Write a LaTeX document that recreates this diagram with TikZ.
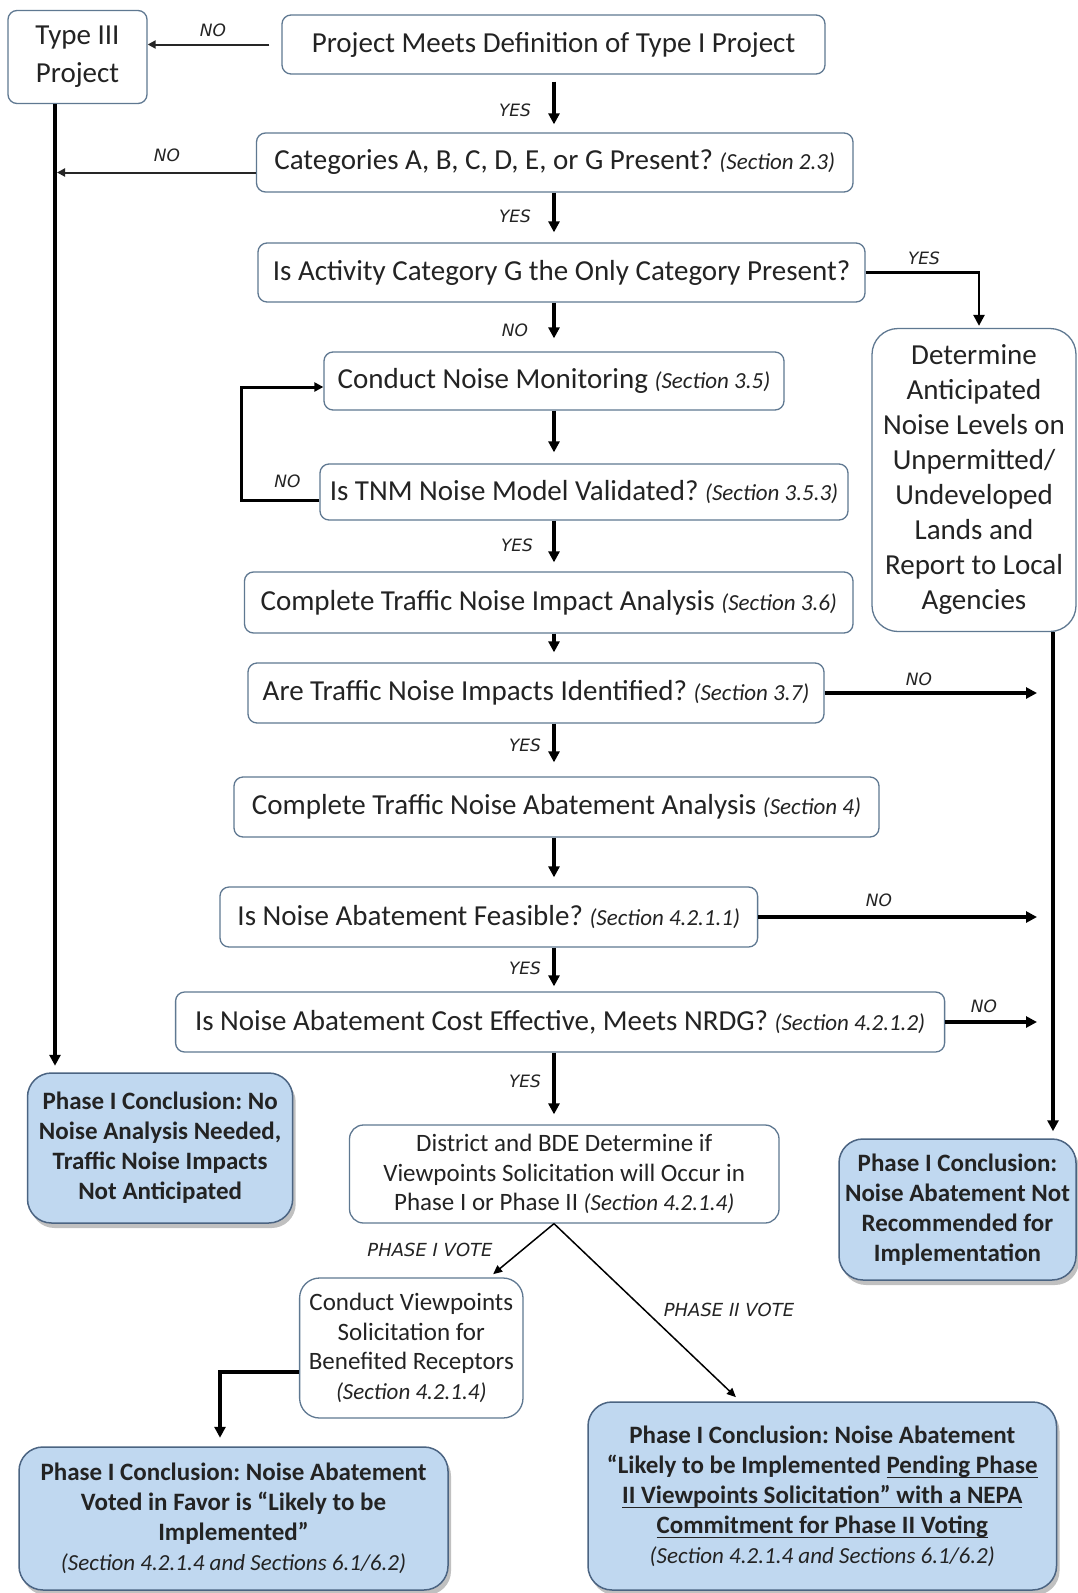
\documentclass[tikz,border=0pt]{standalone}
\usepackage{fontspec}
\setmainfont{Carlito}
\newfontfamily\lblfam{DejaVu Sans}
\usetikzlibrary{arrows.meta,shadows}
\definecolor{boxedge}{RGB}{95,120,145}
\definecolor{blueedge}{RGB}{75,100,130}
\definecolor{bluefill}{RGB}{192,216,240}
\definecolor{txt}{RGB}{35,35,35}
\newcommand\fMain{\fontsize{29}{35}\selectfont}
\newcommand\fTyp{\fontsize{29}{38}\selectfont}
\newcommand\fSec{\fontsize{23}{28}\selectfont\mdseries\itshape}
\newcommand\fSm{\fontsize{25}{29.5}\selectfont}
\newcommand\fBld{\fontsize{25}{30}\selectfont\bfseries}
\newcommand\fLbl{\fontsize{17}{20}\selectfont\lblfam\itshape}
\newcommand\ulx[1]{\underline{\smash{#1}\vphantom{\rule[-2.5pt]{0pt}{1pt}}}}
\frenchspacing
\begin{document}
\begin{tikzpicture}[x=1pt,y=-1pt,
  box/.style={draw=boxedge, line width=1.3pt, fill=white, rounded corners=9pt,
    inner sep=0pt, text=txt, font=\fMain, align=center},
  bluebox/.style={draw=blueedge, line width=1.5pt, fill=bluefill, rounded corners=24pt,
    inner sep=0pt, text=txt, align=center, font=\fBld,
    drop shadow={shadow xshift=3pt, shadow yshift=-5pt, opacity=0.35, fill=black!70}},
  arr/.style={line width=3.4pt, -{Triangle[length=11pt,width=11pt]}},
  thinarr/.style={line width=2pt, draw=black!85, -{Triangle[length=8pt,width=8pt]}},
  votearr/.style={line width=1.5pt, -{Triangle[length=9pt,width=8pt]}},
  lbl/.style={font=\fLbl, text=txt, inner sep=0pt}]
\fill[white] (0,0) rectangle (1078,1593);
\useasboundingbox (0,0) rectangle (1078,1593);

% helper coordinates
\coordinate (col) at (554,0);
\coordinate (vline) at (55,0);
\coordinate (cx1) at (979,0);
\coordinate (loopx) at (241,0);
\coordinate (rnoend) at (1037,0);
\coordinate (rx) at (1053,0);
\coordinate (lx) at (220,0);

% boxes
\node[box, font=\fTyp, minimum width=139pt, minimum height=93pt] (t3) at (77.5,57) {Type III\\Project};
\node[box, minimum width=543pt, minimum height=59pt] (b1) at (553.5,44.5) {Project Meets Definition of Type I Project};
\node[box, minimum width=596.5pt, minimum height=59pt] (b2) at (554.75,162.5) {Categories A, B, C, D, E, or G Present? {\fSec(Section 2.3)}};
\node[box, minimum width=607pt, minimum height=59pt] (b3) at (561.5,272.5) {Is Activity Category G the Only Category Present?};
\node[box, minimum width=460pt, minimum height=58pt] (b4) at (554,381) {Conduct Noise Monitoring {\fSec(Section 3.5)}};
\node[box, minimum width=528pt, minimum height=56pt] (b5) at (584,492) {Is TNM Noise Model Validated? {\fSec(Section 3.5.3)}};
\node[box, minimum width=608.5pt, minimum height=61pt] (b6) at (548.75,602.5) {Complete Traffic Noise Impact Analysis {\fSec(Section 3.6)}};
\node[box, minimum width=576pt, minimum height=60pt] (b7) at (536,693) {Are Traffic Noise Impacts Identified? {\fSec(Section 3.7)}};
\node[box, minimum width=645pt, minimum height=60pt] (b8) at (556.5,807) {Complete Traffic Noise Abatement Analysis {\fSec(Section 4)}};
\node[box, minimum width=537.6pt, minimum height=60pt] (b9) at (488.8,917) {Is Noise Abatement Feasible? {\fSec(Section 4.2.1.1)}};
\node[box, minimum width=769pt, minimum height=60pt] (b10) at (560.1,1022) {Is Noise Abatement Cost Effective, Meets NRDG? {\fSec(Section 4.2.1.2)}};
\node[box, rounded corners=26pt, minimum width=204pt, minimum height=303pt] (det) at (974,480) {Determine\\Anticipated\\Noise Levels on\\Unpermitted/\\Undeveloped\\Lands and\\Report to Local\\Agencies};
\node[bluebox, minimum width=265.2pt, minimum height=150pt] (p1) at (160.1,1148) {Phase I Conclusion: No\\Noise Analysis Needed,\\Traffic Noise Impacts\\Not Anticipated};
\node[box, font=\fSm, rounded corners=14pt, minimum width=429.5pt, minimum height=98pt] (dis) at (564.25,1174) {District and BDE Determine if\\Viewpoints Solicitation will Occur in\\Phase I or Phase II {\fSec(Section 4.2.1.4)}};
\node[bluebox, minimum width=237pt, minimum height=141pt] (p2) at (957.5,1209.5) {Phase I Conclusion:\\Noise Abatement Not\\Recommended for\\Implementation};
\node[box, font=\fSm, rounded corners=20pt, minimum width=223.4pt, minimum height=140pt] (cv) at (411.3,1348) {Conduct Viewpoints\\Solicitation for\\Benefited Receptors\\{\fSec(Section 4.2.1.4)}};
\node[bluebox, minimum width=429pt, minimum height=143pt] (p3) at (233.5,1518.5) {Phase I Conclusion: Noise Abatement\\Voted in Favor is “Likely to be\\Implemented”\\{\fSec(Section 4.2.1.4 and Sections 6.1/6.2)}};
\node[bluebox, minimum width=468.5pt, minimum height=188pt] (p4) at (822.25,1496) {Phase I Conclusion: Noise Abatement\\“Likely to be Implemented \ulx{Pending Phase}\\\ulx{II Viewpoints Solicitation” with a NEPA}\\\ulx{Commitment for Phase II Voting}\\{\fSec(Section 4.2.1.4 and Sections 6.1/6.2)}};

% main column arrows
\draw[arr, shorten <=7pt, shorten >=8pt] (b1.south -| col) -- (b2.north -| col);
\draw[arr, shorten >=10pt] (b2.south -| col) -- (b3.north -| col);
\draw[arr, shorten >=13pt] (b3.south -| col) -- (b4.north -| col);
\draw[arr, shorten >=11pt] (b4.south -| col) -- (b5.north -| col);
\draw[arr, shorten >=9pt] (b5.south -| col) -- (b6.north -| col);
\draw[arr, shorten >=10pt] (b6.south -| col) -- (b7.north -| col);
\draw[arr, shorten >=14pt] (b7.south -| col) -- (b8.north -| col);
\draw[arr, shorten >=9pt] (b8.south -| col) -- (b9.north -| col);
\draw[arr, shorten >=5pt] (b9.south -| col) -- (b10.north -| col);
\draw[arr, shorten >=10pt] (b10.south -| col) -- (dis.north -| col);

% left side
\draw[thinarr, shorten <=12pt] (b1.west) -- (b1.west -| t3.east);
\draw[thinarr, shorten >=2pt] ([yshift=-10pt]b2.west) -- ([yshift=-10pt]b2.west -| vline);
\draw[arr, shorten >=6.5pt] (t3.south -| vline) -- (p1.north -| vline);

% loop
\draw[arr, line width=3pt, -{Triangle[length=9pt,width=9pt]}] ([yshift=-8pt]b5.west) -- ([yshift=-8pt]b5.west -| loopx) |- ([yshift=-6pt]b4.west);

% right side
\draw[line width=2.4pt, -{Triangle[length=11pt,width=11pt]}, shorten >=2pt] (b3.east) -| (det.north -| cx1);
\draw[arr] (b7.east) -- (b7.east -| rnoend);
\draw[arr] (b9.east) -- (b9.east -| rnoend);
\draw[arr] (b10.east) -- (b10.east -| rnoend);
\draw[arr, shorten >=7pt] (det.south -| rx) -- (p2.north -| rx);

% votes
\draw[votearr, shorten >=5pt] (dis.south -| col) -- ([xshift=78pt]cv.north);
\draw[votearr, shorten >=6pt] (dis.south -| col) -- ([xshift=-82pt]p4.north);
\draw[arr, shorten >=8.5pt] ([yshift=-24pt]cv.west) -| (p3.north -| lx);

% labels
\node[lbl] (l1) at (213,30) {NO};
\node[lbl] (l2) at (515,110) {YES};
\node[lbl] (l3) at (167,155) {NO};
\node[lbl] (l4) at (515,216.7) {YES};
\node[lbl] (l5) at (924,258) {YES};
\node[lbl] (l6) at (515,330) {NO};
\node[lbl] (l7) at (287.5,481.7) {NO};
\node[lbl] (l8) at (517,545) {YES};
\node[lbl] (l9) at (919,679) {NO};
\node[lbl] (l10) at (525,745) {YES};
\node[lbl] (l11) at (879,900) {NO};
\node[lbl] (l12) at (525,968) {YES};
\node[lbl] (l13) at (984,1006.7) {NO};
\node[lbl] (l14) at (525,1081.7) {YES};
\node[lbl, font=\fontsize{18}{20}\selectfont\lblfam\itshape] (l15) at (430,1250) {PHASE I VOTE};
\node[lbl, font=\fontsize{18}{20}\selectfont\lblfam\itshape] (l16) at (729,1310) {PHASE II VOTE};
\end{tikzpicture}
\end{document}
